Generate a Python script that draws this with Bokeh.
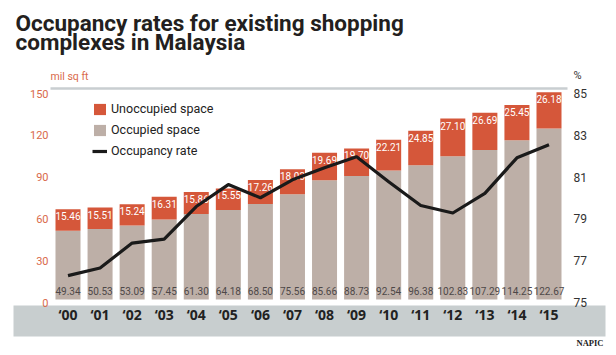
from bokeh.plotting import figure
from bokeh.models import (ColumnDataSource, FactorRange, Range1d,
                          Legend, LegendItem)
from bokeh.core.properties import value
from bokeh.embed import file_html
from bokeh.resources import INLINE

# ---------------- data ----------------
years = ["\u201800", "\u201801", "\u201802", "\u201803", "\u201804", "\u201805",
         "\u201806", "\u201807", "\u201808", "\u201809", "\u201810", "\u201811",
         "\u201812", "\u201813", "\u201814", "\u201815"]
occupied = [49.34, 50.53, 53.09, 57.45, 61.30, 64.18, 68.50, 75.56,
            85.66, 88.73, 92.54, 96.38, 102.83, 107.29, 114.25, 122.67]
unoccupied = [15.46, 15.51, 15.24, 16.31, 15.86, 15.55, 17.26, 18.03,
              19.69, 19.70, 22.21, 24.85, 27.10, 26.69, 25.45, 26.18]
occupancy_rate = [76.14, 76.51, 77.70, 77.89, 79.45, 80.50, 79.87, 80.73,
                  81.31, 81.83, 80.64, 79.50, 79.14, 80.08, 81.78, 82.41]
left_ticks = [0, 30, 60, 90, 120, 150]
right_ticks = [75, 77, 79, 81, 83, 85]

# ---------------- styling ----------------
SANS = "Roboto"
ORANGE = "#d5573a"
TAUPE = "#bdafa7"
BAND = "#c8cecf"
RULE = "#c9ced1"
LABEL_ORANGE = "#d9694a"
DARK = "#231f20"

# ---------------- layout (canvas pixels -> plot coordinates) ----------------
W, H = 616, 355                    # the plot frame fills the whole canvas
X_PAD = 1.605                      # factor units of padding on each side
X_SCALE = W / (len(years) + 2 * X_PAD)
Y0_PX = 299                        # canvas y of value 0
Y_SCALE = 1.393                    # px per mil sq ft
Y_START = (Y0_PX - H) / Y_SCALE
Y_END = Y0_PX / Y_SCALE
PCT_START = 75 + Y_START * 10 / 150   # 75..85 % spans the same as 0..150
PCT_END = 75 + Y_END * 10 / 150


def xpos(px):
    return px / X_SCALE - X_PAD


def ypos(py):
    return (Y0_PX - py) / Y_SCALE


src = ColumnDataSource(dict(
    year=years,
    occupied=occupied,
    unoccupied=unoccupied,
    total=[o + u for o, u in zip(occupied, unoccupied)],
    occ_label=["%.2f" % v for v in occupied],
    unocc_label=["%.2f" % v for v in unoccupied],
    rate=occupancy_rate,
))

p = figure(x_range=FactorRange(factors=years, range_padding=X_PAD,
                               range_padding_units="absolute"),
           y_range=Range1d(Y_START, Y_END),
           x_axis_location=None, y_axis_location=None,
           width=W, height=H, output_backend="svg", toolbar_location=None,
           title=None, min_border=0, min_border_left=0, min_border_right=0,
           min_border_top=0, min_border_bottom=0)
p.extra_y_ranges = {"pct": Range1d(PCT_START, PCT_END)}
p.outline_line_color = None
p.background_fill_color = "white"
p.border_fill_color = "white"
p.xgrid.visible = False
p.ygrid.visible = False

# grey band behind the year labels and grey rule on top
p.quad(left=[xpos(13)], right=[xpos(605)], top=[ypos(305)], bottom=[ypos(336)],
       fill_color=BAND, line_color=None, level="underlay")
p.segment(x0=[xpos(50)], x1=[xpos(567)], y0=[ypos(88)], y1=[ypos(88)],
          line_color=RULE, line_width=2.5)

# stacked bars
r_occ, r_unocc = p.vbar_stack(["occupied", "unoccupied"], x="year", width=0.78,
                              color=[TAUPE, ORANGE], line_color=None, source=src)

# bar labels
p.text(x="year", y="total", text="unocc_label", source=src,
       text_align="center", text_baseline="alphabetic", y_offset=7,
       text_color="white", text_font=value(SANS), text_font_size="10px")
p.text(x="year", y=0, text="occ_label", source=src,
       text_align="center", text_baseline="alphabetic", y_offset=-9,
       text_color="#4d4848", text_font=value(SANS), text_font_size="10px")

# occupancy line
r_line = p.line(x="year", y="rate", source=src, y_range_name="pct",
                line_color="#1a1a1a", line_width=3.2, line_join="round")

# ---- axis tick labels (placed through the plot's own scales) ----
p.text(x=years, y=[ypos(314)] * len(years), text=years,
       text_align="center", text_baseline="middle", text_color="#222222",
       text_font=value("Open Sans"), text_font_style="bold",
       text_font_size="14px")
p.text(x=[xpos(48)] * len(left_ticks), y=left_ticks,
       text=[str(t) for t in left_ticks], text_align="right",
       text_baseline="middle", y_offset=3, text_color=LABEL_ORANGE,
       text_font=value(SANS), text_font_size="11px")
p.text(x=[xpos(573)] * len(right_ticks), y=right_ticks,
       text=[str(t) for t in right_ticks], text_align="left",
       text_baseline="middle", y_offset=3, text_color="#333333",
       text_font=value(SANS), text_font_size="12px", y_range_name="pct")


def note(x, y, text, size, color, align="left", baseline="alphabetic",
         font=SANS, style="normal"):
    p.text(x=[x], y=[y], text=[text], text_align=align, text_baseline=baseline,
           text_color=color, text_font=value(font), text_font_style=style,
           text_font_size=size)


# titles and notes
note(xpos(15), ypos(22), "Occupancy rates for existing shopping", "22.5px",
     DARK, style="bold")
note(xpos(15), ypos(41), "complexes in Malaysia", "22.5px", DARK, style="bold")
note(xpos(50), ypos(76), "mil sq ft", "10.5px", LABEL_ORANGE, baseline="middle")
note(xpos(573), ypos(75), "%", "11px", "#333333", baseline="middle")
note(xpos(603), ypos(342), "NAPIC", "8.5px", "#222222", align="right",
     baseline="middle", font="Liberation Serif", style="bold")

# legend
legend = Legend(items=[
    LegendItem(label="Unoccupied space", renderers=[r_unocc]),
    LegendItem(label="Occupied space", renderers=[r_occ]),
    LegendItem(label="Occupancy rate", renderers=[r_line]),
], location=(92, 197), border_line_color=None, background_fill_alpha=0,
   padding=0, spacing=6, glyph_width=15, glyph_height=14, label_standoff=4,
   label_text_font=SANS, label_text_font_size="12.5px",
   label_text_color="#222222")
p.add_layout(legend)

open("out.html", "w").write(file_html(p, INLINE))
